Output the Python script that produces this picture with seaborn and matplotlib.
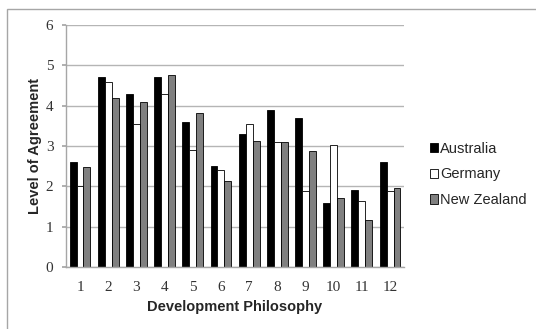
import pandas as pd
import matplotlib.pyplot as plt
import seaborn as sns
from matplotlib.patches import Patch, Rectangle

# ------------------------------------------------------------------
# Data
# ------------------------------------------------------------------
philosophies = [str(i) for i in range(1, 13)]
countries = ['Australia', 'Germany', 'New Zealand']

australia = [2.6, 4.7, 4.3, 4.7, 3.6, 2.5, 3.3, 3.9, 3.7, 1.6, 1.9, 2.6]
germany = [2.0, 4.6, 3.55, 4.3, 2.9, 2.4, 3.55, 3.1, 1.88, 3.02, 1.65, 1.88]
new_zealand = [2.47, 4.2, 4.08, 4.77, 3.82, 2.13, 3.12, 3.1, 2.87, 1.71, 1.17, 1.96]

colors = {'Australia': '#000000', 'Germany': '#ffffff', 'New Zealand': '#808080'}

df = pd.DataFrame({
    'Development Philosophy': philosophies * 3,
    'Level of Agreement': australia + germany + new_zealand,
    'Country': [c for c in countries for _ in philosophies],
})

# ------------------------------------------------------------------
# Plot
# ------------------------------------------------------------------
sns.set_theme(style="white")
fig = plt.figure(figsize=(5.36, 3.29), dpi=100)
ax = fig.add_axes([0.123, 0.188, 0.631, 0.736])

sns.barplot(data=df, x='Development Philosophy', y='Level of Agreement',
            hue='Country', hue_order=countries, palette=colors,
            edgecolor='black', linewidth=0.6, width=0.74, saturation=1,
            ax=ax, legend=False)

ax.set_ylim(0, 6)
ax.set_yticks(range(0, 7))
ax.set_xlim(-0.5, 11.5)
ax.yaxis.grid(True, color='#b5b5b5', linewidth=1)
ax.set_axisbelow(True)
for side in ['top', 'right']:
    ax.spines[side].set_visible(False)
for side in ['left', 'bottom']:
    ax.spines[side].set_color('#a6a6a6')
    ax.spines[side].set_linewidth(1)

ax.tick_params(axis='y', length=3, color='#a6a6a6', left=True, pad=6)
ax.tick_params(axis='x', length=0, pad=10)
for lbl in ax.get_xticklabels() + ax.get_yticklabels():
    lbl.set_family('Liberation Serif')
    lbl.set_fontsize(11)
    lbl.set_color('#333333')

ax.set_xlabel('Development Philosophy', family='Liberation Sans', fontsize=10.5,
              fontweight='bold', labelpad=4)
ax.set_ylabel('Level of Agreement', family='Liberation Sans', fontsize=10.5,
              fontweight='bold', labelpad=3)

handles = [Patch(facecolor=colors[c], edgecolor='black', linewidth=0.6, label=c)
           for c in countries]
fig.legend(handles=handles, loc='center left', bbox_to_anchor=(0.777, 0.47),
           frameon=False, handlelength=0.6, handleheight=0.6, handletextpad=0.12,
           labelspacing=0.8, prop={'family': 'Liberation Sans', 'size': 10.5})

# outer chart border
fig.patches.append(Rectangle((0.013, -0.01), 1.0, 0.983, transform=fig.transFigure,
                             fill=False, edgecolor='#a6a6a6', linewidth=1))

fig.savefig('out.png', dpi=100)
